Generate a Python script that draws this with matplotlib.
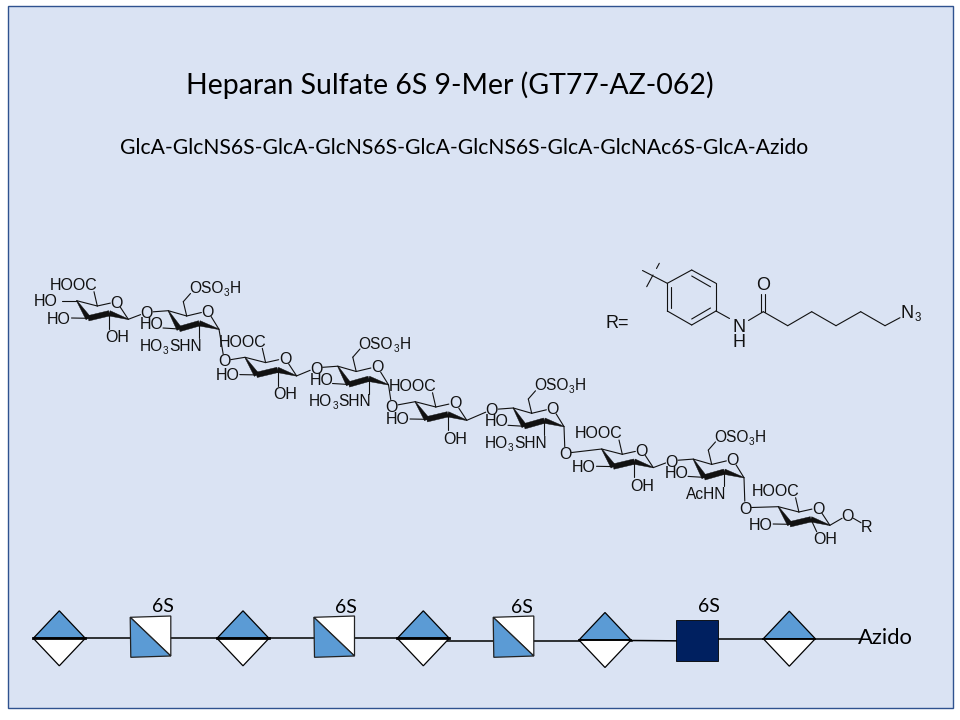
import matplotlib
matplotlib.use("Agg")
import matplotlib.pyplot as plt
from matplotlib.patches import Polygon, Rectangle
import numpy as np

plt.rcParams['font.family'] = ['Liberation Sans', 'DejaVu Sans']

TITLE = "Heparan Sulfate 6S 9-Mer (GT77-AZ-062)"
SUBTITLE = "GlcA-GlcNS6S-GlcA-GlcNS6S-GlcA-GlcNS6S-GlcA-GlcNAc6S-GlcA-Azido"

# residues of the chain, drawn left to right
GLCA_SHIFT = [(0, 0), (168.3, 56.6), (338.5, 101), (525, 148.3), (701.6, 206)]
GLCN_SHIFT = [(0, 0), (169.5, 55.5), (345, 97.3), (525, 148.4)]
GLCN_LABEL = [["HO", "3", "SHN"], ["HO", "3", "SHN"], ["HO", "3", "SHN"], ["AcHN"]]
SULFATE_LABEL = ["OSO", "3", "H"]
ALPHA_O = [(224.3, 360.7), (391.7, 406), (565, 453.3), (745, 507.7)]

# symbol row
SYMBOL_KIND = ["diamond", "half", "diamond", "half", "diamond", "half", "diamond", "navy", "diamond"]
SYMBOL_X = [59.3, 150.5, 243, 334.2, 423.3, 513.5, 605, 697, 789.3]
SYMBOL_Y = [638.3, 638, 638.3, 638, 638.3, 638, 640, 640.5, 638.7]
SYMBOL_TAG = [None, "6S", None, "6S", None, "6S", None, "6S", None]
TAG_X = [None, 163.3, None, 345.7, None, 521.7, None, 708.7, None]
TAG_Y = [None, 606.7, None, 607.3, None, 607.3, None, 606, None]

BG = "#DAE3F3"
EDGE = "#2F528F"
BLUE = "#5B9BD5"
NAVY = "#002060"
INK = "#111111"

fig = plt.figure(figsize=(9.6, 7.2), dpi=100)
ax = fig.add_axes([0, 0, 1, 1])
ax.set_xlim(0, 960)
ax.set_ylim(720, 0)
ax.axis("off")
ax.add_patch(Rectangle((7.5, 5.5), 945.5, 702, fc=BG, ec=EDGE, lw=1.0))
renderer = fig.canvas.get_renderer()


def label(x, y, s, ha="center", size=11.5):
    ax.text(x, y + 5.8, s, ha=ha, va="baseline", fontsize=size, color=INK)


def rich(x, y, parts, ha="left", size=11.2):
    # every second piece is a subscript, mathtext came out too small here
    items = []
    total = 0
    for i, s in enumerate(parts):
        sub = i % 2 == 1
        t = ax.text(0, 0, s, va="baseline", ha="left", fontsize=size * 0.64 if sub else size, color=INK)
        w = t.get_window_extent(renderer).width + (0.4 if i < len(parts) - 1 else 0)
        items.append((t, total, sub))
        total += w
    x0 = x - total if ha == "right" else x
    for t, off, sub in items:
        t.set_position((x0 + off, y + 5.8 + (3 if sub else 0)))


def bond(p, q, trim_p=0, trim_q=0, lw=0.8):
    p, q = np.array(p, float), np.array(q, float)
    u = (q - p) / np.hypot(*(q - p))
    a, b = p + u * trim_p, q - u * trim_q
    ax.plot([a[0], b[0]], [a[1], b[1]], color=INK, lw=lw, solid_capstyle="round")


def wedge(p, q, w0, w1):
    p, q = np.array(p, float), np.array(q, float)
    u = (q - p) / np.hypot(*(q - p))
    n = np.array([-u[1], u[0]])
    pts = [p + n * w0 / 2, q + n * w1 / 2, q - n * w1 / 2, p - n * w0 / 2]
    ax.add_patch(Polygon(pts, fc=INK, ec=INK, lw=0.3))


def ring(c4, c3, c2, c1, o5, c5, d):
    c4, c3, c2, c1, o5, c5 = [(a[0] + d[0], a[1] + d[1]) for a in (c4, c3, c2, c1, o5, c5)]
    wedge(c4, c3, 0.6, 5.4)
    wedge(c3, c2, 5.4, 5.4)
    wedge(c2, c1, 5.4, 0.6)
    bond(c4, c5)
    bond(c5, o5, 0, 6.5)
    bond(o5, c1, 6.5, 0)
    label(o5[0], o5[1], "O")
    return c4, c3, c2, c1, o5, c5


def glca(d, last=False):
    dx, dy = d
    c4, c3, c2, c1, o5, c5 = ring((76.7, 300.7), (88.3, 318.3), (109.3, 313.3),
                                  (128.3, 319.3), (116.7, 301.7), (97.3, 306), d)
    bond(c5, (94 + dx, 291.7 + dy))
    label(74 + dx, 284.3 + dy, "HOOC")
    bond(c3, (71.5 + dx, 318 + dy))
    label(59 + dx, 317.7 + dy, "HO")
    if last:
        bond(c2, (816.7, 531.7))
        label(825, 537.7, "OH")
    else:
        bond(c2, (109.3 + dx, 329 + dy))
        label(116.7 + dx, 336.7 + dy, "OH")
    return c1, c4


def glcn(d, name):
    dx, dy = d
    c4, c3, c2, c1, o5, c5 = ring((168.3, 310.7), (179.3, 329), (199.3, 323.3),
                                  (219, 329.3), (207.7, 311), (186.7, 316), d)
    c6 = (183.3 + dx, 301.7 + dy)
    bond(c5, c6)
    bond(c6, (190.5 + dx, 293.5 + dy))
    rich(189 + dx, 287.3 + dy, SULFATE_LABEL)
    bond(c3, (163 + dx, 328 + dy))
    label(151.7 + dx, 323.3 + dy, "HO")
    bond(c2, (199.3 + dx, 338 + dy))
    rich(201.7 + dx, 345 + dy, name, ha="right")
    return c1, c4


# sugars
glca_sites = [glca(d, last=i == len(GLCA_SHIFT) - 1) for i, d in enumerate(GLCA_SHIFT)]
glcn_sites = [glcn(d, n) for d, n in zip(GLCN_SHIFT, GLCN_LABEL)]

# first HO on the terminal GlcA
bond(glca_sites[0][1], (61.5, 300.7))
label(46, 300.7, "HO")

# glycosidic oxygens
for i, d in enumerate(GLCN_SHIFT):
    o = (146.7 + d[0], 312.3 + d[1])
    label(o[0], o[1], "O")
    bond(glca_sites[i][0], o, 0, 6.5)
    bond(o, glcn_sites[i][1], 6.5, 0)
    a = ALPHA_O[i]
    label(a[0], a[1], "O")
    bond(glcn_sites[i][0], a, 0, 6.5)
    bond(a, glca_sites[i + 1][1], 6.5, 0)

# anomeric O-R
bond(glca_sites[4][0], (847.7, 515), 0, 6.5)
label(847.7, 515, "O")
bond((847.7, 515), (866.7, 526), 6.5, 6.5)
label(866.7, 526, "R")

# R group
label(617.3, 321.7, "R=", size=13)
HEX = [(667.3, 283.3), (691.7, 270), (716, 283.3), (716, 311), (691.7, 325), (667.3, 311)]
for i in range(6):
    bond(HEX[i], HEX[(i + 1) % 6])
bond((691.7, 276), (710.5, 286.8))
bond((671, 287), (671, 307.5))
bond((691.7, 319), (710.5, 308))
bond(HEX[0], (642.5, 270.5))
bond((659.3, 263.3), (656.5, 268.5))
bond((653, 275), (646.7, 286.7))
NC = (763.3, 311.7)
bond(HEX[3], (729.5, 318.5))
label(739, 326, "N", size=13)
label(739, 341.5, "H", size=13)
bond((748.5, 320.5), NC)
bond((761.3, 311.7), (761.3, 294))
bond((765.3, 311.7), (765.3, 294))
label(762.8, 284, "O", size=13)
CHAIN = [NC, (787.7, 325.7), (811.7, 311.7), (836, 325.7), (860.7, 311.7), (885, 325.7), (900, 317.7)]
for a, b in zip(CHAIN[:-1], CHAIN[1:]):
    bond(a, b)
rich(901, 312.5, ["N", "3"], size=13)

# symbol row
LINE_PARTS = [((59.3, 638.3), (448, 638.3)), ((423.3, 641), (631.7, 641)), ((631.7, 640.5), (697, 641)),
              ((697, 638.7), (860, 638.7))]
for a, b in LINE_PARTS:
    ax.plot([a[0], b[0]], [a[1], b[1]], color="black", lw=1.1, zorder=2)

for i, (kind, x, y) in enumerate(zip(SYMBOL_KIND, SYMBOL_X, SYMBOL_Y)):
    if kind == "diamond":
        w, h = 26, 27.5
        ax.add_patch(Polygon([(x - w, y), (x, y - h), (x + w, y)], fc=BLUE, ec="black", lw=0.9, zorder=3))
        ax.add_patch(Polygon([(x - w, y), (x, y + h), (x + w, y)], fc="white", ec="black", lw=0.9, zorder=3))
        ax.plot([x - w, x + w], [y, y], color="black", lw=2.0 if i < 5 else 1.3, zorder=4)
    elif kind == "half":
        tl = (x - 20.3, y - 20.7)
        tr = (x + 20.3, y - 22)
        br = (x + 20.3, y + 18)
        bl = (x - 19.7, y + 19.3)
        ax.add_patch(Polygon([tl, tr, br], fc="white", ec="#222222", lw=0.9, zorder=3))
        ax.add_patch(Polygon([tl, br, bl], fc=BLUE, ec="#222222", lw=0.9, zorder=3))
    else:
        ax.add_patch(Rectangle((x - 20.7, y - 20.2), 41.4, 40.4, fc=NAVY, ec="black", lw=0.6, zorder=3))

for tag, x, y in zip(SYMBOL_TAG, TAG_X, TAG_Y):
    if tag:
        ax.text(x, y, tag, ha="center", va="center", family="Lato", fontsize=14, color="black")
ax.text(885, 637.5, "Azido", ha="center", va="center", family="Lato", fontsize=15.8, color="black", zorder=5)

ax.text(450, 85, TITLE, ha="center", va="center", family="Lato", fontsize=20.5, color="black")
ax.text(464, 148, SUBTITLE, ha="center", va="center", family="Lato", fontsize=15.25, color="black")

fig.savefig("out.png", dpi=100)
